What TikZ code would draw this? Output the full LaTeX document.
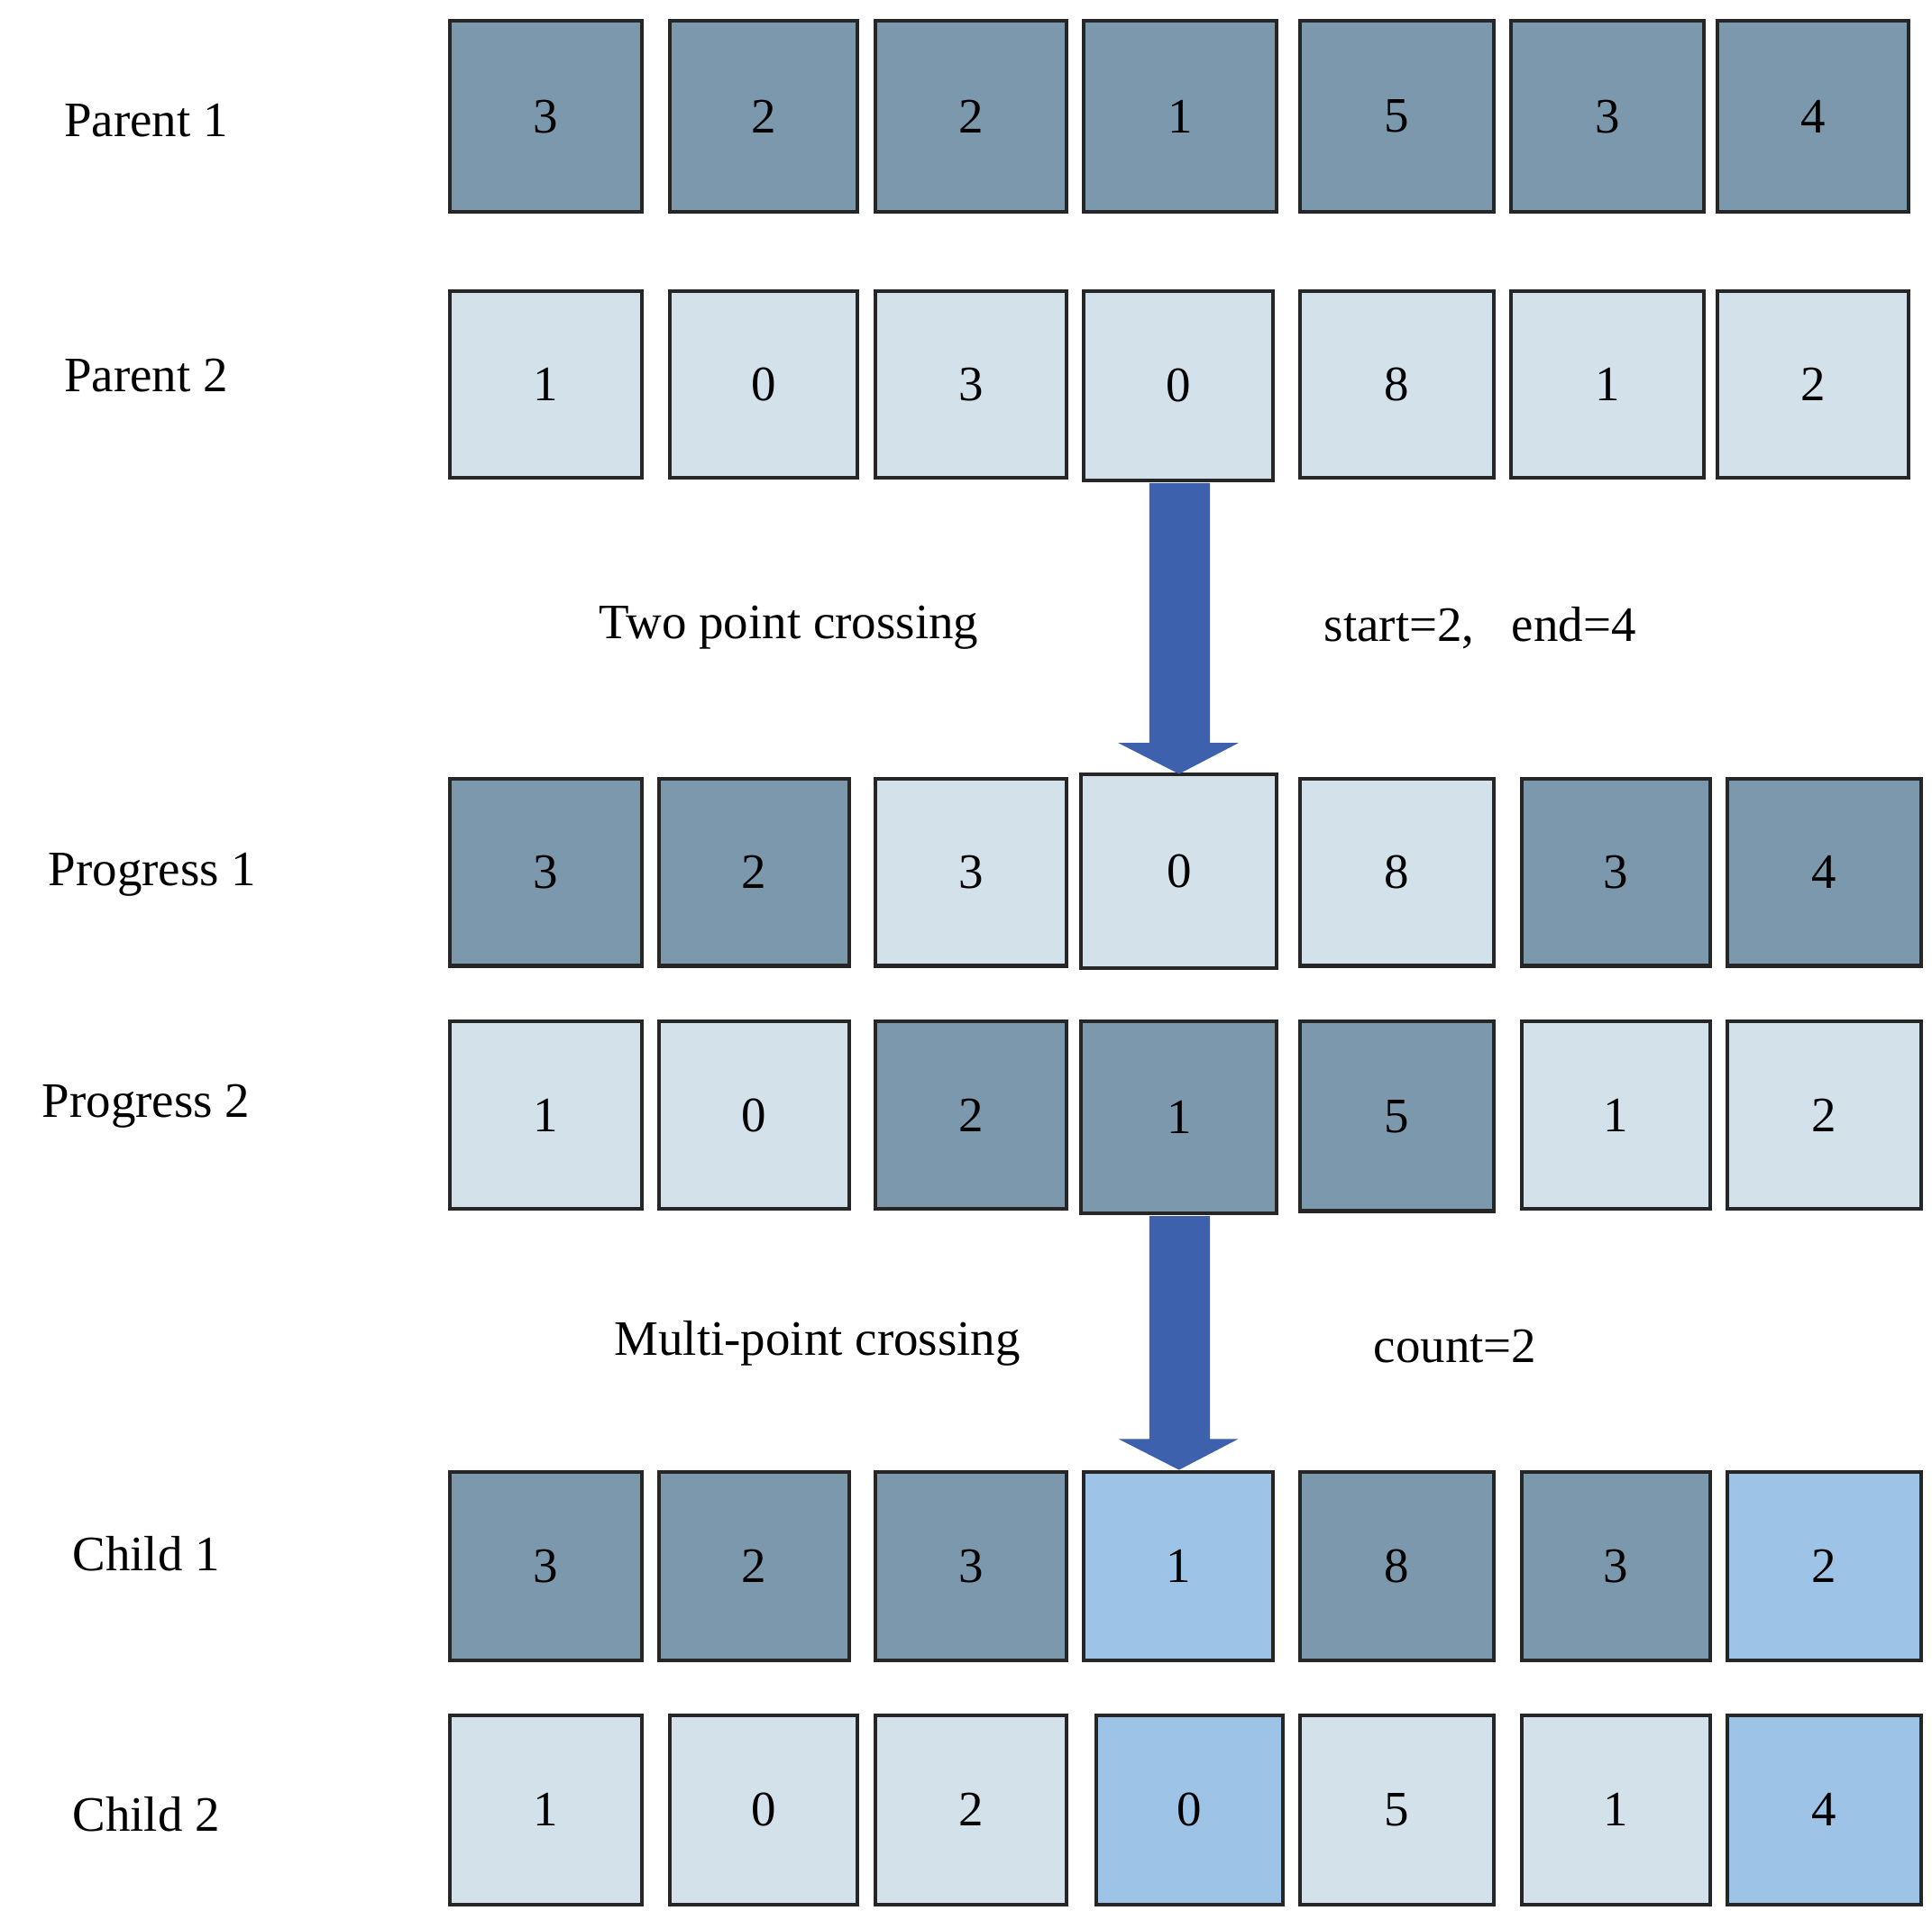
\documentclass[tikz,border=0pt]{standalone}
\usepackage{fontspec}
\setmainfont{Liberation Serif}
\definecolor{dk}{HTML}{7B98AD}
\definecolor{lt}{HTML}{D3E2EA}
\definecolor{bl}{HTML}{9DC3E6}
\definecolor{ar}{HTML}{3E61AD}
\newcommand{\gcell}[7]{\node[cell,fill=#6,minimum width={#3-#2-4},minimum height={#5-#4-4}] (#1) at ({(#2+#3)/2},{(#4+#5)/2}) {#7};}
\begin{document}
\begin{tikzpicture}[x=1pt,y=-1pt,
 cell/.style={draw=black!85,line width=3pt,inner sep=0pt,font=\fontsize{40}{40}\selectfont},
 lab/.style={font=\fontsize{40}{40}\selectfont,inner sep=0pt}]
\useasboundingbox (0,0) rectangle (1560,1550);
% Parent 1
\gcell{pa1}{361}{520}{15}{173}{dk}{3}
\gcell{pa2}{539}{694}{15}{173}{dk}{2}
\gcell{pa3}{705}{863}{15}{173}{dk}{2}
\gcell{pa4}{873}{1033}{15}{173}{dk}{1}
\gcell{pa5}{1048}{1208}{15}{173}{dk}{5}
\gcell{pa6}{1218}{1378}{15}{173}{dk}{3}
\gcell{pa7}{1385}{1543}{15}{173}{dk}{4}
% Parent 2
\gcell{pb1}{361}{520}{233}{388}{lt}{1}
\gcell{pb2}{539}{694}{233}{388}{lt}{0}
\gcell{pb3}{705}{863}{233}{388}{lt}{3}
\gcell{pb4}{873}{1030}{233}{390}{lt}{0}
\gcell{pb5}{1048}{1208}{233}{388}{lt}{8}
\gcell{pb6}{1218}{1378}{233}{388}{lt}{1}
\gcell{pb7}{1385}{1543}{233}{388}{lt}{2}
% Progress 1
\gcell{qa1}{361}{520}{627}{782}{dk}{3}
\gcell{qa2}{530}{688}{627}{782}{dk}{2}
\gcell{qa3}{705}{863}{627}{782}{lt}{3}
\gcell{qa4}{871}{1033}{623}{784}{lt}{0}
\gcell{qa5}{1048}{1208}{627}{782}{lt}{8}
\gcell{qa6}{1227}{1383}{627}{782}{dk}{3}
\gcell{qa7}{1393}{1553}{627}{782}{dk}{4}
% Progress 2
\gcell{qb1}{361}{520}{823}{978}{lt}{1}
\gcell{qb2}{530}{688}{823}{978}{lt}{0}
\gcell{qb3}{705}{863}{823}{978}{dk}{2}
\gcell{qb4}{871}{1033}{823}{982}{dk}{1}
\gcell{qb5}{1048}{1208}{823}{980}{dk}{5}
\gcell{qb6}{1227}{1383}{823}{978}{lt}{1}
\gcell{qb7}{1393}{1553}{823}{978}{lt}{2}
% Child 1
\gcell{ca1}{361}{520}{1187}{1343}{dk}{3}
\gcell{ca2}{530}{688}{1187}{1343}{dk}{2}
\gcell{ca3}{705}{863}{1187}{1343}{dk}{3}
\gcell{ca4}{873}{1030}{1187}{1343}{bl}{1}
\gcell{ca5}{1048}{1208}{1187}{1343}{dk}{8}
\gcell{ca6}{1227}{1383}{1187}{1343}{dk}{3}
\gcell{ca7}{1393}{1553}{1187}{1343}{bl}{2}
% Child 2
\gcell{cb1}{361}{520}{1383}{1540}{lt}{1}
\gcell{cb2}{539}{694}{1383}{1540}{lt}{0}
\gcell{cb3}{705}{863}{1383}{1540}{lt}{2}
\gcell{cb4}{883}{1038}{1383}{1540}{bl}{0}
\gcell{cb5}{1048}{1208}{1383}{1540}{lt}{5}
\gcell{cb6}{1227}{1383}{1383}{1540}{lt}{1}
\gcell{cb7}{1393}{1553}{1383}{1540}{bl}{4}
% labels
\node[lab] (l1) at (118,97) {Parent 1};
\node[lab] (l2) at (118,303) {Parent 2};
\node[lab] (l3) at (123,706) {Progress 1};
\node[lab] (l4) at (118,893) {Progress 2};
\node[lab] (l5) at (118,1255) {Child 1};
\node[lab] (l6) at (118,1465) {Child 2};
\node[lab] (t1) at (637,507) {Two point crossing};
\node[lab] (t2) at (1195,507) {start=2,\ \ \ end=4};
\node[lab] (t3) at (660,1085) {Multi-point crossing};
\node[lab] (t4) at (1175,1087) {count=2};
% arrows
\fill[ar] (928,390) -- (977,390) -- (977,600) -- (1000,600) -- (952,625) -- (903,600) -- (928,600) -- cycle;
\fill[ar] (928,982) -- (977,982) -- (977,1162) -- (1000,1162) -- (952,1187) -- (903,1162) -- (928,1162) -- cycle;
\end{tikzpicture}
\end{document}
